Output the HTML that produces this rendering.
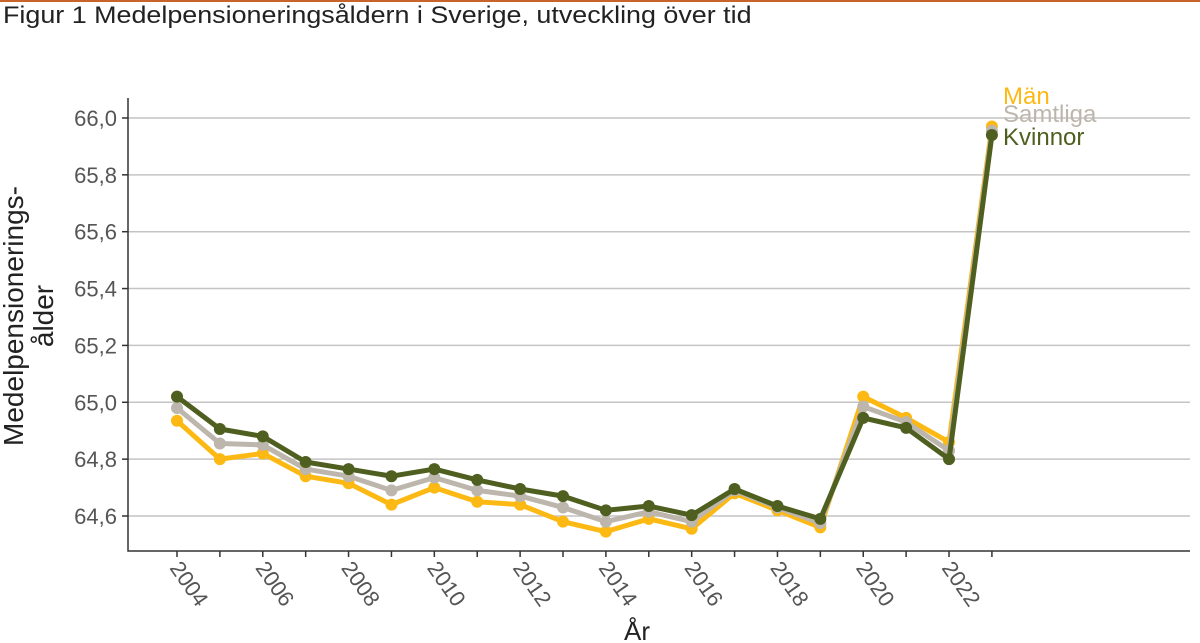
<!DOCTYPE html>
<html><head><meta charset="utf-8"><style>
body{margin:0;background:#fff;width:1200px;height:643px;overflow:hidden;font-family:"Liberation Sans","DejaVu Sans",sans-serif}
</style></head><body>
<div style="position:absolute;left:0;top:0;width:1200px;height:2px;background:#c8642a"></div>
<div style="position:absolute;left:3px;top:2px;font-size:24px;color:#222;transform:scaleX(1.12);transform-origin:0 0;white-space:nowrap">Figur 1 Medelpensioneringsåldern i Sverige, utveckling över tid</div>
<svg id="chart" width="1200" height="643" style="position:absolute;left:0;top:0"></svg>
<script>
const years=[2004,2005,2006,2007,2008,2009,2010,2011,2012,2013,2014,2015,2016,2017,2018,2019,2020,2021,2022,2023];
const man=[64.935,64.80,64.82,64.74,64.715,64.64,64.70,64.65,64.64,64.58,64.545,64.59,64.555,64.68,64.62,64.56,65.02,64.945,64.86,65.97];
const samtliga=[64.98,64.855,64.85,64.765,64.74,64.69,64.735,64.69,64.67,64.63,64.58,64.615,64.58,64.69,64.63,64.575,64.985,64.93,64.83,65.955];
const kvinnor=[65.02,64.906,64.88,64.79,64.765,64.74,64.765,64.727,64.695,64.67,64.62,64.635,64.603,64.695,64.635,64.59,64.945,64.91,64.80,65.94];
const yTicks=[64.6,64.8,65.0,65.2,65.4,65.6,65.8,66.0];
const xTicks=[2004,2006,2008,2010,2012,2014,2016,2018,2020,2022];
const svg=document.getElementById('chart');const NS='http://www.w3.org/2000/svg';
const X=v=>177+(v-2004)*42.89;
const Y=v=>516-(v-64.6)*284.3;
function mk(t,a,p){const e=document.createElementNS(NS,t);for(const k in a)e.setAttribute(k,a[k]);(p||svg).appendChild(e);return e;}
yTicks.forEach(t=>{
 const g=mk('line',{x1:128,x2:1190,y1:Y(t),y2:Y(t),stroke:'#c4c4c4','stroke-width':1.5});
 
 const tk=mk('line',{x1:122,x2:128,y1:Y(t),y2:Y(t),stroke:'#333','stroke-width':1.5});
 
 const l=mk('text',{x:117,y:Y(t)+8,'text-anchor':'end','font-size':22,fill:'#555'});
 l.textContent=t.toFixed(1).replace('.',',');
 
});
const ax=mk('path',{d:'M128,98V551H1190',fill:'none',stroke:'#333','stroke-width':1.5});

years.forEach(y=>{const tk=mk('line',{x1:X(y),x2:X(y),y1:551,y2:557,stroke:'#333','stroke-width':1.5});
 });
xTicks.forEach(y=>{const l=mk('text',{x:X(y)-8,y:568,'font-size':22,fill:'#555',transform:`rotate(55 ${X(y)-8} 568)`});
 l.textContent=y;});
const xt=mk('text',{x:637,y:640,'text-anchor':'middle','font-size':26,fill:'#222'});xt.textContent='År';

const yt=mk('text',{transform:'translate(23,316) rotate(-90)','text-anchor':'middle','font-size':28,fill:'#222'});

const t1=mk('tspan',{x:0,dy:0},yt);t1.textContent='Medelpensionerings-';
const t2=mk('tspan',{x:0,dy:30},yt);t2.textContent='ålder';
const series=[['man',man,'#fdb913'],['samtliga',samtliga,'#bdb6ad'],['kvinnor',kvinnor,'#4f5f1f']];
series.forEach(([n,d,c])=>{
 const p=mk('polyline',{points:d.map((v,i)=>X(years[i])+','+Y(v)).join(' '),fill:'none',stroke:c,'stroke-width':5,'stroke-linejoin':'round'});
 
 d.forEach((v,i)=>{const ci=mk('circle',{cx:X(years[i]),cy:Y(v),r:6,fill:c});
  });
});
[['Män',104,'#fdb913'],['Samtliga',122,'#bdb6ad'],['Kvinnor',145,'#4f5f1f']].forEach(([t,y,c])=>{
 const l=mk('text',{x:1003,y:y,'font-size':24,fill:c});l.textContent=t;
 });
</script>
</body></html>
